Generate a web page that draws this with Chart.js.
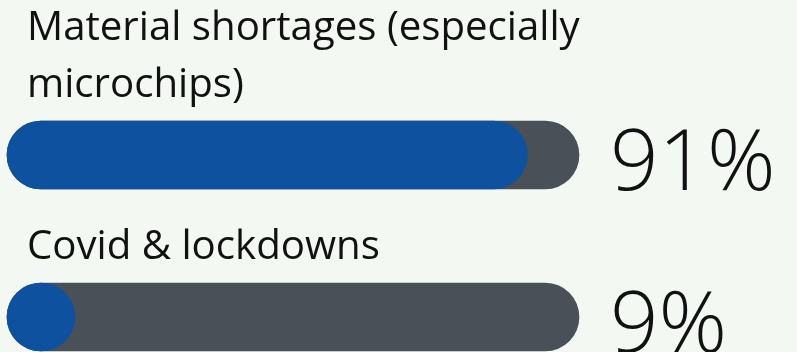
<!DOCTYPE html>
<html>
<head>
<meta charset="utf-8">
<script src="https://cdn.jsdelivr.net/npm/chart.js@4"></script>
<style>
  html, body { margin: 0; padding: 0; background: #f3f8f3; overflow: hidden; }
  #wrap { width: 797px; height: 352px; position: relative; }
</style>
</head>
<body>
<div id="wrap"><canvas id="chart"></canvas></div>
<script>
const categories = [
  ["Material shortages (especially", "microchips)"],
  ["Covid & lockdowns"],
];
const shares = [91, 9];
const fullScale = [100, 100];

const blue = "#0e519f";
const track = "#4a5058";

const labelPlugin = {
  id: "labels",
  afterDatasetsDraw(chart) {
    const ctx = chart.ctx;
    const meta = chart.getDatasetMeta(0);
    ctx.save();
    ctx.fillStyle = "#111";
    ctx.textAlign = "left";
    ctx.textBaseline = "alphabetic";
    meta.data.forEach((bar, i) => {
      const top = bar.y - bar.height / 2;
      const bottom = bar.y + bar.height / 2;
      const lines = categories[i];
      ctx.font = "40.2px 'Open Sans'";
      for (let k = 0; k < lines.length; k++) {
        const y = top - 24 - (lines.length - 1 - k) * 57;
        ctx.fillText(lines[k], 27, y);
      }
      ctx.font = "300 85px 'Open Sans'";
      ctx.fillText(shares[i] + "%", 610, bottom + 1);
    });
    ctx.restore();
  },
};

new Chart(document.getElementById("chart"), {
  type: "bar",
  data: {
    labels: categories.map((c) => c.join(" ")),
    datasets: [
      {
        data: shares,
        backgroundColor: blue,
        borderRadius: 34,
        borderSkipped: false,
        minBarLength: 68,
        grouped: false,
        clip: false,
      },
      {
        data: fullScale,
        backgroundColor: track,
        borderRadius: 34,
        borderSkipped: false,
        grouped: false,
        clip: false,
      },
    ],
  },
  options: {
    indexAxis: "y",
    responsive: true,
    maintainAspectRatio: false,
    animation: false,
    barThickness: 68,
    layout: { padding: { top: 155, bottom: 35, left: 7, right: 218 } },
    scales: {
      x: { display: false, min: 0, max: 100 },
      y: { display: false, offset: false },
    },
    plugins: {
      legend: { display: false },
      tooltip: { enabled: false },
    },
  },
  plugins: [labelPlugin],
});
</script>
</body>
</html>
